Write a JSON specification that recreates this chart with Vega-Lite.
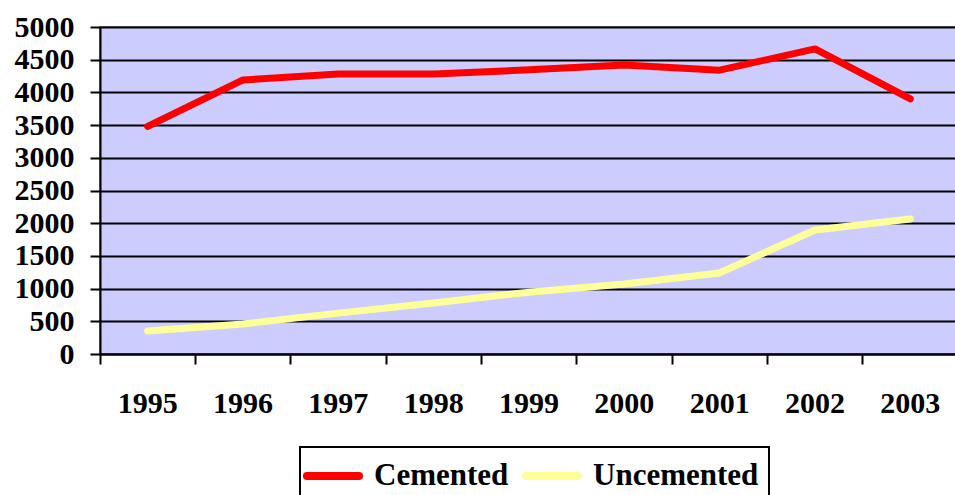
{
  "$schema": "https://vega.github.io/schema/vega-lite/v6.json",
  "autosize": "none",
  "width": 858,
  "height": 327,
  "padding": {"left": 100, "top": 27, "right": 0, "bottom": 141},
  "background": "white",
  "config": {
    "font": "Liberation Serif",
    "view": {"fill": "#CCCCFF", "stroke": "#808080", "strokeWidth": 2}
  },
  "data": {
    "values": [
      {"year": "1995", "series": "Cemented", "value": 3480},
      {"year": "1996", "series": "Cemented", "value": 4190},
      {"year": "1997", "series": "Cemented", "value": 4280},
      {"year": "1998", "series": "Cemented", "value": 4280},
      {"year": "1999", "series": "Cemented", "value": 4345},
      {"year": "2000", "series": "Cemented", "value": 4420},
      {"year": "2001", "series": "Cemented", "value": 4340},
      {"year": "2002", "series": "Cemented", "value": 4665},
      {"year": "2003", "series": "Cemented", "value": 3900},
      {"year": "1995", "series": "Uncemented", "value": 350},
      {"year": "1996", "series": "Uncemented", "value": 460},
      {"year": "1997", "series": "Uncemented", "value": 625},
      {"year": "1998", "series": "Uncemented", "value": 780},
      {"year": "1999", "series": "Uncemented", "value": 945},
      {"year": "2000", "series": "Uncemented", "value": 1070},
      {"year": "2001", "series": "Uncemented", "value": 1240},
      {"year": "2002", "series": "Uncemented", "value": 1895},
      {"year": "2003", "series": "Uncemented", "value": 2065}
    ]
  },
  "mark": {"type": "line", "strokeWidth": 7, "strokeCap": "round", "strokeJoin": "round"},
  "encoding": {
    "x": {
      "field": "year",
      "type": "ordinal",
      "scale": {"type": "band", "paddingInner": 0, "paddingOuter": 0},
      "axis": {
        "title": null,
        "labelAngle": 0,
        "labelFont": "Liberation Serif",
        "labelFontWeight": "bold",
        "labelFontSize": 30,
        "labelColor": "black",
        "labelPadding": 24,
        "bandPosition": 0,
        "tickSize": 10,
        "tickWidth": 2,
        "tickColor": "black",
        "domainColor": "black",
        "domainWidth": 2,
        "grid": false
      }
    },
    "y": {
      "field": "value",
      "type": "quantitative",
      "scale": {"domain": [0, 5000], "nice": false},
      "axis": {
        "title": null,
        "format": "d",
        "values": [0, 500, 1000, 1500, 2000, 2500, 3000, 3500, 4000, 4500, 5000],
        "labelFont": "Liberation Serif",
        "labelFontWeight": "bold",
        "labelFontSize": 30,
        "labelColor": "black",
        "labelPadding": 16,
        "tickSize": 10,
        "tickWidth": 2,
        "tickColor": "black",
        "domainColor": "black",
        "domainWidth": 2,
        "grid": true,
        "gridColor": "black",
        "gridWidth": 2,
        "gridOpacity": 1
      }
    },
    "color": {
      "field": "series",
      "type": "nominal",
      "scale": {"domain": ["Cemented", "Uncemented"], "range": ["#FF0000", "#FFFF99"]},
      "legend": {
        "title": null,
        "orient": "none",
        "legendX": 200,
        "legendY": 420,
        "direction": "horizontal",
        "columns": 2,
        "columnPadding": 0,
        "symbolType": "M-1.47,0H2",
        "symbolSize": 900,
        "symbolStrokeWidth": 8,
        "labelFont": "Liberation Serif",
        "labelFontWeight": "bold",
        "labelFontSize": 31,
        "labelColor": "black",
        "labelOffset": 26,
        "labelLimit": 300,
        "padding": 10,
        "strokeColor": "black",
        "fillColor": "white",
        "encode": {
          "legend": {"update": {"strokeWidth": {"value": 2}}},
          "symbols": {"update": {"strokeCap": {"value": "round"}}}
        }
      }
    }
  }
}
